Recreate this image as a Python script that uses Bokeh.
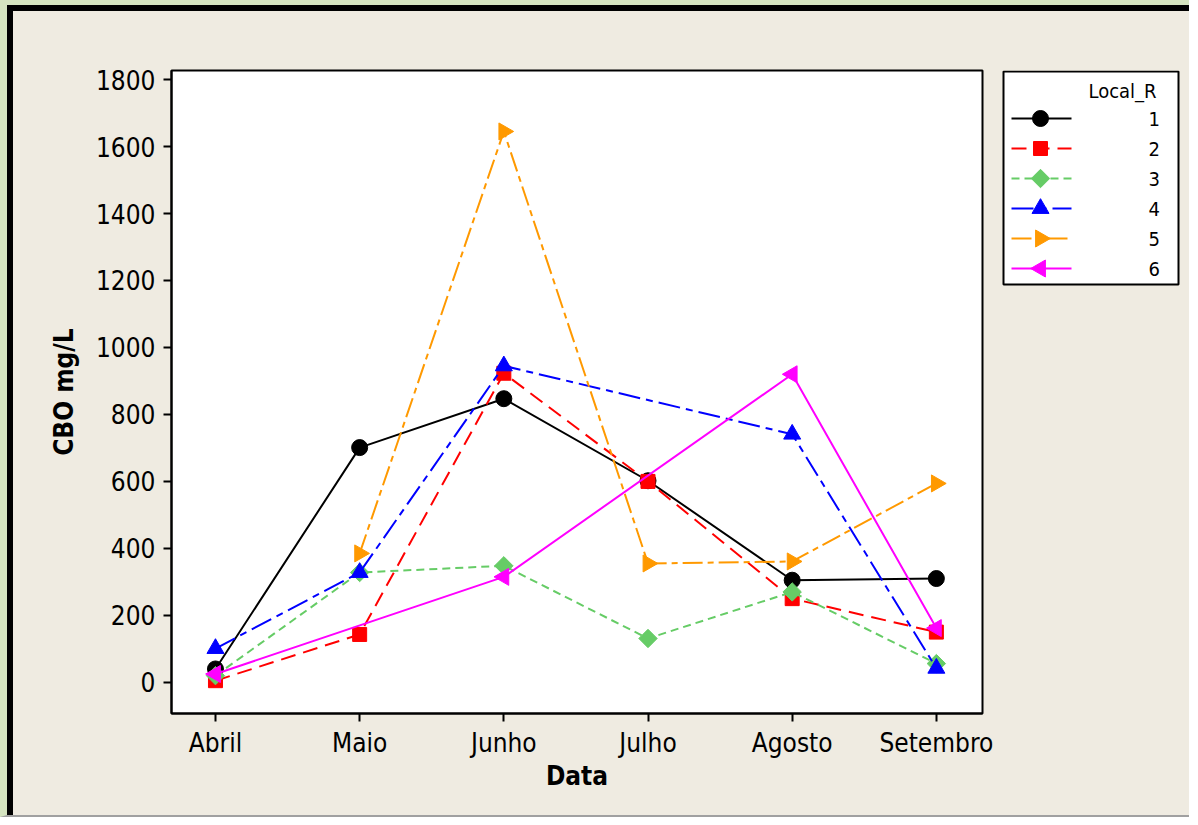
import math
from bokeh.plotting import figure
from bokeh.layouts import row
from bokeh.models import Range1d, FixedTicker
from bokeh.core.properties import value
from bokeh.embed import file_html
from bokeh.resources import INLINE

# ---- data ----
months = ["Abril", "Maio", "Junho", "Julho", "Agosto", "Setembro"]
local_r = ["1", "2", "3", "4", "5", "6"]
s1 = [40, 701, 847, 602, 305, 310]
s2 = [5, 143, 923, 600, 250, 150]
s3 = [20, 328, 348, 131, 270, 56]
s4 = [101, 328, 945, None, 741, 42]
s5 = [None, 385, 1645, 355, 361, 594]
s6 = [25, None, 315, None, 920, 162]
y_ticks = [0, 200, 400, 600, 800, 1000, 1200, 1400, 1600, 1800]
legend_title = "Local_R"

series = [s1, s2, s3, s4, s5, s6]

# ---- styles ----
colors = ["#000000", "#FF0000", "#66CC66", "#0000FF", "#FF9900", "#FF00FF"]
dashes = ["solid", "15 8", "8 5", "22 6 7 6", "20 5 6 5", "solid"]
markers = ["circle", "square", "square", "triangle", "triangle", "triangle"]
angles = [0, 0, math.pi / 4, 0, -math.pi / 2, math.pi / 2]
sizes = [16, 14, 13, 17, 17, 17]
widths = [2, 2, 2, 2, 2, 2]

FONT = "DejaVu Sans Condensed"
BEIGE = "#EFEBE1"
GREEN = "#D5E4C0"
MB_TOP, MB_BOTTOM = 65, 109

# ---------------- main chart ----------------
fig = figure(width=996, height=817,
             x_range=Range1d(-0.305, 5.32), y_range=Range1d(-93, 1827),
             output_backend="svg", toolbar_location=None,
             min_border_left=164, min_border_right=21,
             min_border_top=MB_TOP, min_border_bottom=MB_BOTTOM)

fig.styles = {"border-left": "7px solid " + GREEN,
              "border-top": "5px solid " + GREEN,
              "border-bottom": "2px solid #A0A0A0",
              "background-color": BEIGE,
              "box-shadow": "inset 6px 6px 0 0 #000000"}

fig.border_fill_color = BEIGE
fig.border_fill_alpha = 0
fig.background_fill_color = "#FFFFFF"
fig.outline_line_color = "#000000"
fig.outline_line_width = 2
fig.grid.visible = False

fig.xaxis.ticker = FixedTicker(ticks=list(range(len(months))))
fig.xaxis.major_label_overrides = {i: m for i, m in enumerate(months)}
fig.yaxis.ticker = FixedTicker(ticks=y_ticks)
for ax in (fig.xaxis, fig.yaxis):
    ax.axis_line_color = "#000000"
    ax.axis_line_width = 2
    ax.major_tick_line_color = "#000000"
    ax.major_tick_line_width = 2
    ax.major_tick_in = 0
    ax.major_tick_out = 8
    ax.minor_tick_line_color = None
    ax.major_label_text_font = FONT
    ax.major_label_text_font_size = "26px"
    ax.major_label_text_color = "#000000"
    ax.axis_label_text_font = FONT
    ax.axis_label_text_font_size = "26px"
    ax.axis_label_text_font_style = "bold"
    ax.axis_label_text_color = "#000000"
fig.xaxis.axis_label = "Data"
fig.yaxis.axis_label = "CBO mg/L"
fig.xaxis.major_label_standoff = 6
fig.yaxis.major_label_standoff = 8
fig.xaxis.axis_label_standoff = 0
fig.yaxis.axis_label_standoff = 14

for i, s in enumerate(series):
    xs = [j for j, v in enumerate(s) if v is not None]
    ys = [v for v in s if v is not None]
    fig.line(xs, ys, line_color=colors[i], line_width=widths[i],
             line_dash=dashes[i])
    fig.scatter(xs, ys, marker=markers[i], size=sizes[i], angle=angles[i],
                fill_color=colors[i], line_color=colors[i], line_width=1)

# ---------------- legend panel ----------------
# transparent frame aligned with the main frame; pixel-like coordinates
FW, FH = 183, 643
leg = figure(width=193, height=817,
             x_range=Range1d(0, FW), y_range=Range1d(FH, 0),
             output_backend="svg", toolbar_location=None,
             min_border_left=3, min_border_right=7,
             min_border_top=MB_TOP, min_border_bottom=MB_BOTTOM)
leg.styles = {"border-top": "5px solid " + GREEN,
              "border-bottom": "2px solid #A0A0A0",
              "background-color": BEIGE,
              "box-shadow": "inset 0 6px 0 0 #000000"}
leg.border_fill_color = BEIGE
leg.border_fill_alpha = 0
leg.background_fill_alpha = 0
leg.outline_line_color = None
leg.axis.visible = False
leg.grid.visible = False

box_l, box_r, box_t, box_b = 4, 179, 1, 214
leg.quad(left=[box_l], right=[box_r], top=[box_t], bottom=[box_b],
         fill_color="#FFFFFF", line_color="#000000", line_width=2)

row_y0, row_step = 48, 30
glyph_x0, glyph_x1, marker_x, label_x, title_x, title_y = 12, 72, 41, 149, 89, 20
leg.text(x=[title_x], y=[title_y], text=[legend_title], text_font=value(FONT),
         text_font_size="20px", text_baseline="middle", text_align="left",
         text_color="#000000")
for i, name in enumerate(local_r):
    yy = row_y0 + i * row_step
    leg.line([glyph_x0, glyph_x1], [yy, yy], line_color=colors[i],
             line_width=widths[i], line_dash=dashes[i])
    leg.scatter([marker_x], [yy], marker=markers[i], size=sizes[i],
                angle=angles[i], fill_color=colors[i], line_color=colors[i],
                line_width=1)
    leg.text(x=[label_x], y=[yy], text=[name], text_font=value(FONT),
             text_font_size="20px", text_baseline="middle", text_align="left",
             text_color="#000000")

p = row(fig, leg)
open("out.html", "w").write(file_html(p, INLINE))
